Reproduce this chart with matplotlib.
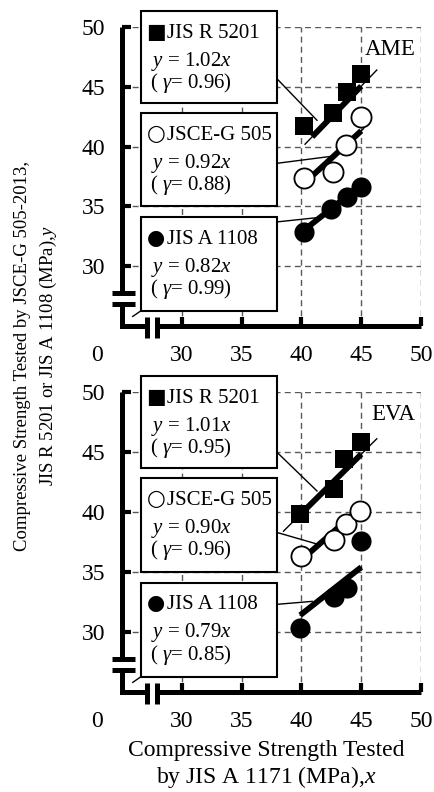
import numpy as np
import matplotlib
matplotlib.use('Agg')
import matplotlib.pyplot as plt
from matplotlib.patches import Rectangle

plt.rcParams['font.family'] = ['Liberation Serif', 'DejaVu Sans']
plt.rcParams['mathtext.fontset'] = 'custom'
plt.rcParams['mathtext.rm'] = 'Liberation Serif'
plt.rcParams['mathtext.it'] = 'Liberation Serif:italic'

# --- data ---
panel_names = ['AME', 'EVA']
series_names = ['JIS R 5201', 'JSCE-G 505', 'JIS A 1108']
series_symbols = ['■', '○', '●']
tick_values = [30, 35, 40, 45, 50]

ame_r5201_x = [40.2, 42.6, 43.8, 45.0]
ame_r5201_y = [41.7, 42.8, 44.6, 46.1]
ame_jsce_x = [40.2, 42.6, 43.7, 45.0]
ame_jsce_y = [37.4, 37.9, 40.1, 42.5]
ame_a1108_x = [40.2, 42.5, 43.8, 45.0]
ame_a1108_y = [32.9, 34.8, 35.8, 36.6]

eva_r5201_x = [39.9, 42.7, 43.6, 45.0]
eva_r5201_y = [39.8, 41.9, 44.4, 45.8]
eva_jsce_x = [40.0, 42.7, 43.7, 44.9]
eva_jsce_y = [36.3, 37.7, 39.0, 40.1]
eva_a1108_x = [39.9, 42.7, 43.8, 45.0]
eva_a1108_y = [30.3, 32.9, 33.7, 37.6]

ame_slopes = [1.02, 0.92, 0.82]
ame_gammas = [0.96, 0.88, 0.99]
eva_slopes = [1.01, 0.90, 0.79]
eva_gammas = [0.95, 0.96, 0.85]

# fitted lines as drawn (end points of the thin line, span of the thick part)
ame_fit_x = [[40.3, 46.3], [40.3, 45.2], [40.2, 45.0]]
ame_fit_y = [[40.2, 46.4], [37.0, 41.5], [33.0, 36.8]]
ame_thick_x = [[40.9, 45.0], [40.6, 45.0], [40.2, 45.0]]
eva_fit_x = [[38.5, 46.3], [40.0, 45.0], [39.9, 45.0]]
eva_fit_y = [[38.4, 46.1], [36.0, 40.4], [31.4, 35.4]]
eva_thick_x = [[39.9, 45.0], [40.0, 45.0], [39.9, 45.0]]

# leader lines: start height at the box edge, end point near the fit line
ame_leader_y0 = [45.7, 38.6, 33.7]
ame_leader_x1 = [41.3, 42.6, 41.7]
ame_leader_y1 = [42.2, 39.2, 34.1]
eva_leader_y0 = [45.0, 38.3, 32.3]
eva_leader_x1 = [41.3, 41.4, 40.9]
eva_leader_y1 = [41.75, 37.3, 32.55]

# --- styles / layout ---
marker_styles = [
    dict(marker='s', ms=13, mfc='k', mec='k', mew=0),
    dict(marker='o', ms=14.5, mfc='w', mec='k', mew=1.3),
    dict(marker='o', ms=14.5, mfc='k', mec='k', mew=0),
]
symbol_sizes = [15, 15.5, 15]
box_x0, box_x1 = 26.55, 37.93
box_tops = [51.3, 42.8, 34.1]
box_bottoms = [43.65, 35.0, 26.25]
line_offsets = [2.22, 4.56, 6.40]


def draw_panel(ax, name, xs, ys, slopes, gammas, fit_x, fit_y, thick_x,
               lead_y0, lead_x1, lead_y1):
    ax.set_xlim(25, 50)
    ax.set_ylim(25, 50)
    for sp in ax.spines.values():
        sp.set_visible(False)
    ax.set_xticks(tick_values)
    ax.set_yticks(tick_values)
    ax.tick_params(direction='in', length=6.5, width=3, labelsize=17)
    ax.tick_params(axis='x', pad=14)
    ax.tick_params(axis='y', pad=12)
    ax.grid(True, color='0.35', lw=1.0, linestyle=(0, (4.3, 3)))
    ax.set_axisbelow(True)

    # broken axes
    kw = dict(color='k', lw=3.6, clip_on=False, solid_capstyle='butt',
              solid_joinstyle='miter', zorder=6)
    ax.plot([25, 25], [50, 27.75], **kw)
    ax.plot([25, 25, 27.1], [26.8, 25, 25], **kw)
    ax.plot([27.9, 50], [25, 25], **kw)
    for yb in [27.75, 26.8]:
        ax.plot([24.16, 26.09], [yb, yb], **kw)
    for xb in [27.1, 27.9]:
        ax.plot([xb, xb], [24.0, 25.75], **kw)

    ax.annotate('0', xy=(0, 0), xycoords='axes fraction', xytext=(-18.2, -21),
                textcoords='offset points', ha='center', va='center',
                fontsize=17, annotation_clip=False)

    for i in range(3):
        p = np.polyfit(fit_x[i], fit_y[i], 1)
        ax.plot(fit_x[i], np.polyval(p, fit_x[i]), color='k', lw=1.0, zorder=3)
        ax.plot(thick_x[i], np.polyval(p, thick_x[i]), color='k', lw=4.2,
                solid_capstyle='butt', zorder=3)
        ax.plot(xs[i], ys[i], ls='none', zorder=4, **marker_styles[i])
        ax.plot([box_x1, lead_x1[i]], [lead_y0[i], lead_y1[i]], color='k',
                lw=1.0, zorder=3, clip_on=False)

        ax.add_patch(Rectangle((box_x0, box_bottoms[i]), box_x1 - box_x0,
                               box_tops[i] - box_bottoms[i], facecolor='w',
                               edgecolor='k', lw=1.5, clip_on=False, zorder=7))
        top = box_tops[i]
        ax.text(27.05, top - line_offsets[0], series_symbols[i],
                family='DejaVu Sans', fontsize=symbol_sizes[i], va='baseline',
                ha='left', zorder=8)
        ax.text(28.8, top - line_offsets[0], series_names[i],
                fontsize=15, va='baseline', ha='left', zorder=8)
        ax.text(27.45, top - line_offsets[1], '$y$ = %.2f$x$' % slopes[i],
                fontsize=15, va='baseline', ha='left', zorder=8)
        ax.text(27.34, top - line_offsets[2], '( $\\gamma$= %.2f)' % gammas[i],
                fontsize=15, va='baseline', ha='left', zorder=8)

    ax.plot([26.55, 25.9], [26.25, 25.8], color='k', lw=1.0, clip_on=False, zorder=7)
    ax.text(49.55, 47.7, name, fontsize=16.5, ha='right', va='baseline')


fig = plt.figure(figsize=(4.35, 7.92), dpi=100)
ax_top = fig.add_axes([0.2805, 0.5884, 0.6874, 0.3775])
ax_bot = fig.add_axes([0.2805, 0.1263, 0.6874, 0.3788])

draw_panel(ax_top, panel_names[0],
           [ame_r5201_x, ame_jsce_x, ame_a1108_x],
           [ame_r5201_y, ame_jsce_y, ame_a1108_y],
           ame_slopes, ame_gammas, ame_fit_x, ame_fit_y, ame_thick_x,
           ame_leader_y0, ame_leader_x1, ame_leader_y1)
draw_panel(ax_bot, panel_names[1],
           [eva_r5201_x, eva_jsce_x, eva_a1108_x],
           [eva_r5201_y, eva_jsce_y, eva_a1108_y],
           eva_slopes, eva_gammas, eva_fit_x, eva_fit_y, eva_thick_x,
           eva_leader_y0, eva_leader_x1, eva_leader_y1)

fig.text(36.5 / 435, 1 - 356 / 792,
         'Compressive Strength Tested by JSCE-G 505-2013,\n'
         'JIS R 5201 or JIS A 1108 (MPa),$y$',
         rotation=90, ha='center', va='center', fontsize=13.5,
         linespacing=1.45, multialignment='center')
fig.text(266 / 435, 1.5 / 792,
         'Compressive Strength Tested\nby JIS A 1171 (MPa),$x$',
         ha='center', va='bottom', fontsize=17, linespacing=1.2,
         multialignment='center')

fig.savefig('out.png', dpi=100)
